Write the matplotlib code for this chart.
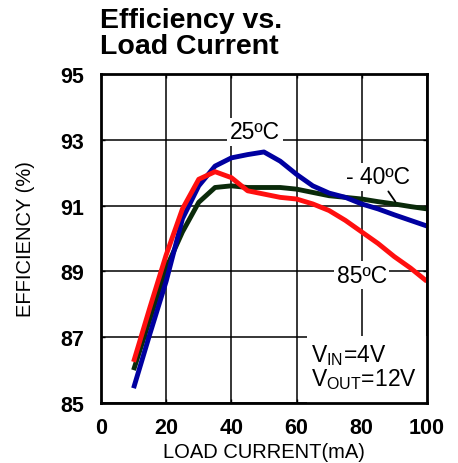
import matplotlib
matplotlib.use('Agg')
import matplotlib.pyplot as plt
from matplotlib.patches import Rectangle

plt.rcParams['font.family'] = ['Liberation Sans', 'DejaVu Sans']
plt.rcParams['mathtext.fontset'] = 'custom'
plt.rcParams['mathtext.rm'] = 'Liberation Sans'

load_ma = [10, 15, 20, 25, 30, 35, 40, 45, 50, 55, 60, 65, 70, 75, 80, 85, 90, 95, 100]
eff_25c = [85.45, 87.1, 88.7, 90.6, 91.6, 92.2, 92.45, 92.55, 92.63, 92.35, 91.95,
           91.6, 91.38, 91.25, 91.05, 90.9, 90.72, 90.55, 90.38]
eff_m40c = [86.0, 87.55, 89.1, 90.2, 91.1, 91.55, 91.6, 91.55, 91.55, 91.55, 91.5,
            91.4, 91.3, 91.25, 91.2, 91.12, 91.05, 90.97, 90.9]
eff_85c = [86.25, 87.9, 89.5, 90.9, 91.8, 92.03, 91.85, 91.45, 91.35, 91.25, 91.2,
           91.05, 90.85, 90.55, 90.2, 89.85, 89.45, 89.1, 88.7]

x_ticks = [0, 20, 40, 60, 80, 100]
y_ticks = [85, 87, 89, 91, 93, 95]

fig = plt.figure(figsize=(4.58, 4.64), dpi=100)
ax = fig.add_axes([0.2205, 0.1293, 0.7115, 0.7091])

ax.plot(load_ma, eff_m40c, color='#0a2a0a', lw=3.5, zorder=3, solid_capstyle='butt')
ax.plot(load_ma, eff_25c, color='#0000a0', lw=3.5, zorder=4, solid_capstyle='butt')
ax.plot(load_ma, eff_85c, color='#ff0f0f', lw=3.5, zorder=5, solid_capstyle='butt')

ax.set_xlim(0, 100)
ax.set_ylim(85, 95)
ax.set_xticks(x_ticks)
ax.set_yticks(y_ticks)
ax.grid(True, color='black', lw=1.1, zorder=0)
ax.set_axisbelow(True)
ax.tick_params(direction='in', length=3, width=1, top=True, right=True,
               labelsize=15.5)
ax.tick_params(axis='x', pad=10)
ax.tick_params(axis='y', pad=12)
for lab in ax.get_xticklabels() + ax.get_yticklabels():
    lab.set_fontweight('bold')
for s in ax.spines.values():
    s.set_linewidth(2)
    s.set_zorder(10)

ax.add_patch(Rectangle((0.632, 0.0), 0.368, 0.204, transform=ax.transAxes,
                       facecolor='white', edgecolor='none', zorder=1))

box = dict(facecolor='white', edgecolor='none', pad=2)
ax.text(47.2, 93.24, '25ºC', fontsize=16.5, ha='center', va='center', bbox=box, zorder=6)
ax.text(85, 91.87, '- 40ºC', fontsize=16.5, ha='center', va='center', bbox=box, zorder=6)
ax.text(80, 88.89, '85ºC', fontsize=16.5, ha='center', va='center', bbox=box, zorder=6)
ax.annotate('', xy=(90.8, 91.05), xytext=(87.7, 91.5),
            arrowprops=dict(arrowstyle='-', color='black', lw=1.3), zorder=6)
ax.text(64.5, 86.46, r'$\mathrm{V_{IN}}$=4V', fontsize=16.5, ha='left', va='center', zorder=6)
ax.text(64.5, 85.73, r'$\mathrm{V_{OUT}}$=12V', fontsize=16.5, ha='left', va='center', zorder=6)

ax.set_xlabel('LOAD CURRENT(mA)', fontsize=14.5, labelpad=3)
ax.set_ylabel('EFFICIENCY (%)', fontsize=14.5, labelpad=18)

fig.text(0.218, 0.927, 'Efficiency vs.\nLoad Current', fontsize=20.5, fontweight='bold',
         ha='left', va='center', linespacing=1.02)

fig.savefig('out.png', dpi=100)
